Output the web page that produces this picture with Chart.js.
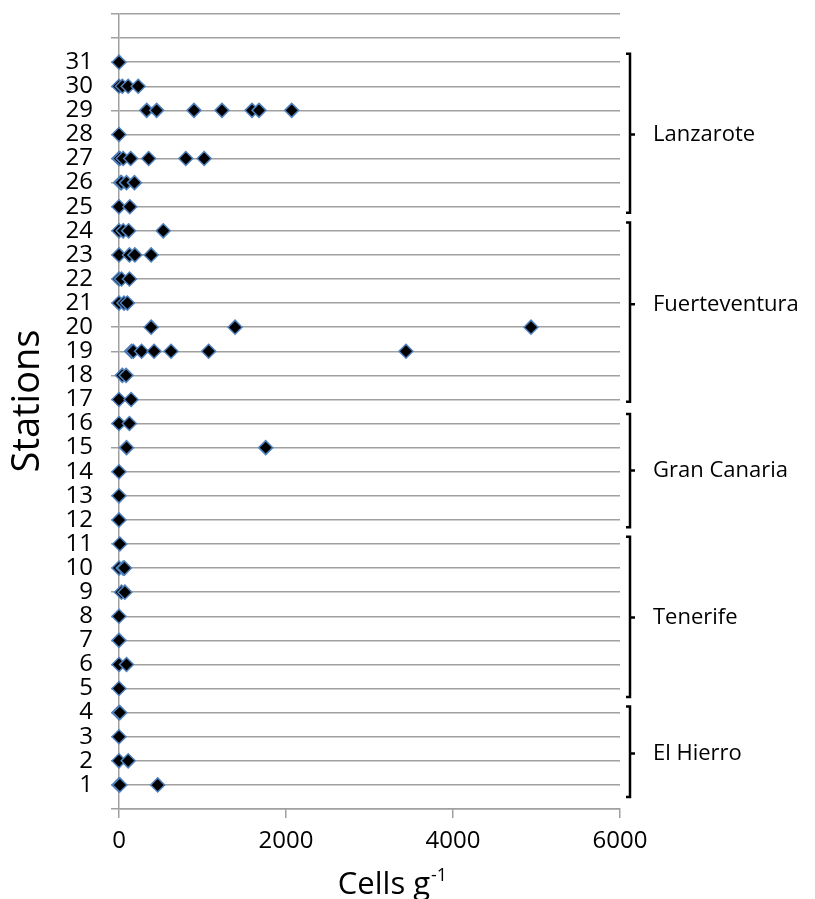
<!DOCTYPE html>
<html>
<head>
<meta charset="utf-8">
<script src="https://cdn.jsdelivr.net/npm/chart.js@4"></script>
<style>
  html, body { margin: 0; padding: 0; background: #fff; }
  #wrap { width: 815px; height: 899px; }
</style>
</head>
<body>
<div id="wrap"><canvas id="chartCells" width="815" height="899"></canvas></div>
<script>
// cells g-1 measured at each station (index 0 = station 1)
var cellsByStation = [
    [0, 10, 463],              // 1
    [0, 110],                  // 2
    [0],                       // 3
    [0, 10],                   // 4
    [0],                       // 5
    [0, 90],                   // 6
    [0],                       // 7
    [0],                       // 8
    [30, 70],                  // 9
    [0, 50, 65],               // 10
    [10],                      // 11
    [0],                       // 12
    [0],                       // 13
    [0],                       // 14
    [90, 1757],                // 15
    [0, 125],                  // 16
    [0, 145],                  // 17
    [40, 85],                  // 18
    [150, 170, 270, 420, 623, 1074, 3437], // 19
    [385, 1390, 4934],         // 20
    [0, 60, 100],              // 21
    [0, 30, 125],              // 22
    [0, 125, 190, 385],        // 23
    [0, 50, 115, 530],         // 24
    [0, 130],                  // 25
    [20, 30, 90, 185],         // 26
    [0, 10, 50, 140, 355, 800, 1020], // 27
    [0],                       // 28
    [332, 451, 898, 1233, 1593, 1677, 2068], // 29
    [0, 40, 110, 230],         // 30
    [0]                        // 31
];

var xTicks = [0, 2000, 4000, 6000];

// island groups shown with brackets on the right
var groupNames = ['Lanzarote', 'Fuerteventura', 'Gran Canaria', 'Tenerife', 'El Hierro'];
var groupFrom = [24.75, 16.9, 11.7, 4.65, 0.5];
var groupTo = [31.35, 24.35, 16.4, 11.3, 4.25];
var groupMid = [28, 20.95, 14.05, 7.95, 2.3];

var FONT = "'Open Sans', 'Noto Sans', sans-serif";

var points = [];
cellsByStation.forEach(function (vals, i) {
    vals.forEach(function (v) { points.push({ x: v, y: i + 1 }); });
});

var islandBrackets = {
    id: 'islandBrackets',
    afterDraw: function (chart) {
        var ctx = chart.ctx;
        var y = chart.scales.y;
        var area = chart.chartArea;
        var bx = area.right + 10;
        ctx.save();
        ctx.strokeStyle = '#000';
        ctx.lineWidth = 2.5;
        ctx.fillStyle = '#000';
        ctx.font = '22px ' + FONT;
        ctx.textBaseline = 'middle';
        for (var i = 0; i < groupNames.length; i++) {
            var top = y.getPixelForValue(groupTo[i]);
            var bot = y.getPixelForValue(groupFrom[i]);
            var mid = y.getPixelForValue(groupMid[i]);
            ctx.beginPath();
            ctx.moveTo(bx - 4, top);
            ctx.lineTo(bx, top);
            ctx.lineTo(bx, bot);
            ctx.lineTo(bx - 4, bot);
            ctx.moveTo(bx, mid);
            ctx.lineTo(bx + 5, mid);
            ctx.stroke();
            ctx.fillText(groupNames[i], bx + 23, mid);
        }

        // axis titles
        ctx.textAlign = 'center';
        ctx.textBaseline = 'alphabetic';
        ctx.font = '38px ' + FONT;
        ctx.save();
        ctx.translate(39, 401);
        ctx.rotate(-Math.PI / 2);
        ctx.fillText('Stations', 0, 0);
        ctx.restore();

        ctx.textAlign = 'left';
        ctx.font = '31px ' + FONT;
        var main = 'Cells g';
        var w = ctx.measureText(main).width;
        ctx.font = '18px ' + FONT;
        var sw = ctx.measureText('-1').width;
        var x0 = 392 - (w + sw) / 2;
        ctx.font = '31px ' + FONT;
        ctx.fillText(main, x0, 894);
        ctx.font = '18px ' + FONT;
        ctx.fillText('-1', x0 + w + 1, 881);
        ctx.restore();
    }
};

new Chart(document.getElementById('chartCells'), {
    type: 'scatter',
    data: {
        datasets: [{
            data: points,
            pointStyle: 'rectRot',
            pointRadius: 7,
            pointHoverRadius: 7,
            backgroundColor: '#000',
            borderColor: '#4f81bd',
            borderWidth: 1.5,
            clip: false
        }]
    },
    options: {
        responsive: false,
        animation: false,
        layout: { padding: { left: 0, right: 195, top: 14, bottom: 0 } },
        plugins: { legend: { display: false }, tooltip: { enabled: false } },
        scales: {
            x: {
                min: 0,
                max: 6000,
                afterBuildTicks: function (scale) {
                    scale.ticks = xTicks.map(function (v) { return { value: v }; });
                },
                afterFit: function (scale) {
                    scale.height = 90;
                    scale.paddingLeft = 0;
                    scale.paddingRight = 0;
                },
                grid: { drawOnChartArea: false, drawTicks: true, tickLength: 9, color: '#a0a0a0', lineWidth: 1.5 },
                border: { display: true, color: '#a0a0a0', width: 1.5 },
                ticks: {
                    color: '#000',
                    font: { family: FONT, size: 24 },
                    padding: 9,
                    maxRotation: 0,
                    callback: function (v) { return String(v); }
                }
            },
            y: {
                min: 0,
                max: 33,
                afterBuildTicks: function (scale) {
                    var t = [];
                    for (var v = 0; v <= 33; v++) t.push({ value: v });
                    scale.ticks = t;
                },
                afterFit: function (scale) {
                    scale.width = 119;
                    scale.paddingTop = 0;
                    scale.paddingBottom = 0;
                },
                grid: { color: '#a0a0a0', lineWidth: 1.5, tickLength: 8 },
                border: { display: true, color: '#a0a0a0', width: 1.5 },
                ticks: {
                    color: '#000',
                    font: { family: FONT, size: 24 },
                    padding: 18,
                    autoSkip: false,
                    callback: function (v) { return (v >= 1 && v <= 31) ? String(v) : ''; }
                }
            }
        }
    },
    plugins: [islandBrackets]
});
</script>
</body>
</html>
